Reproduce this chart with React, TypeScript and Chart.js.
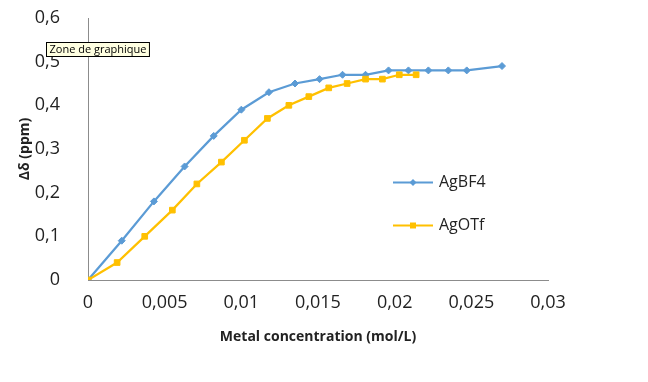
import { useEffect, useRef } from 'react';
import { Chart, registerables } from 'chart.js';
Chart.register(...registerables);

const seriesNames = ['AgBF4', 'AgOTf'];
const concBF4 = [0, 0.0022, 0.0043, 0.0063, 0.0082, 0.01, 0.0118, 0.0135, 0.0151, 0.0166, 0.0181, 0.0196, 0.0209, 0.0222, 0.0235, 0.0247, 0.027];
const shiftBF4 = [0, 0.09, 0.18, 0.26, 0.33, 0.39, 0.43, 0.45, 0.46, 0.47, 0.47, 0.48, 0.48, 0.48, 0.48, 0.48, 0.49];
const concOTf = [0, 0.0019, 0.0037, 0.0055, 0.0071, 0.0087, 0.0102, 0.0117, 0.0131, 0.0144, 0.0157, 0.0169, 0.0181, 0.0192, 0.0203, 0.0214];
const shiftOTf = [0, 0.04, 0.1, 0.16, 0.22, 0.27, 0.32, 0.37, 0.4, 0.42, 0.44, 0.45, 0.46, 0.46, 0.47, 0.47];
const xTickLabels = ['0', '0,005', '0,01', '0,015', '0,02', '0,025', '0,03'];
const yTickLabels = ['0', '0,1', '0,2', '0,3', '0,4', '0,5', '0,6'];
const xTitle = 'Metal concentration (mol/L)';
const yTitle = 'Δδ (ppm)';
const hoverLabel = 'Zone de graphique';

const BLUE = '#5B9BD5';
const YELLOW = '#FFC000';

const overlayPlugin = {
  id: 'overlay',
  afterDraw(chart: any) {
    const ctx = chart.ctx as CanvasRenderingContext2D;
    ctx.save();
    const entries = [
      { name: seriesNames[0], color: BLUE, style: 'diamond', y: 182.5 },
      { name: seriesNames[1], color: YELLOW, style: 'square', y: 225.5 },
    ];
    for (const e of entries) {
      ctx.strokeStyle = e.color;
      ctx.lineWidth = 2;
      ctx.beginPath();
      ctx.moveTo(393, e.y);
      ctx.lineTo(433, e.y);
      ctx.stroke();
      ctx.fillStyle = e.color;
      ctx.beginPath();
      if (e.style === 'diamond') {
        ctx.moveTo(413, e.y - 3.5);
        ctx.lineTo(416.5, e.y);
        ctx.lineTo(413, e.y + 3.5);
        ctx.lineTo(409.5, e.y);
        ctx.closePath();
      } else {
        ctx.rect(410, e.y - 3, 6, 6);
      }
      ctx.fill();
      ctx.fillStyle = '#222';
      ctx.font = '16px "Open Sans"';
      ctx.textBaseline = 'middle';
      ctx.textAlign = 'left';
      ctx.fillText(e.name, 439, e.y);
    }
    ctx.font = '11px "Open Sans"';
    const w = ctx.measureText(hoverLabel).width;
    ctx.fillStyle = '#FFFFE1';
    ctx.fillRect(46.5, 42.5, w + 6, 14);
    ctx.strokeStyle = '#000';
    ctx.lineWidth = 1;
    ctx.strokeRect(46.5, 42.5, w + 6, 14);
    ctx.fillStyle = '#000';
    ctx.textBaseline = 'middle';
    ctx.fillText(hoverLabel, 49.5, 49.5);
    ctx.restore();
  },
};

export default function App() {
  const ref = useRef<HTMLCanvasElement | null>(null);
  useEffect(() => {
    document.body.style.margin = '0';
    if (!ref.current) return;
    const chart = new Chart(ref.current, {
      type: 'line',
      data: {
        datasets: [
          {
            label: seriesNames[0],
            data: concBF4.map((x, i) => ({ x, y: shiftBF4[i] })),
            borderColor: BLUE,
            backgroundColor: BLUE,
            pointBackgroundColor: BLUE,
            pointBorderColor: BLUE,
            pointStyle: 'rectRot',
            pointRadius: 3.5,
            pointBorderWidth: 1,
            borderWidth: 2.25,
            tension: 0,
            order: 1,
          },
          {
            label: seriesNames[1],
            data: concOTf.map((x, i) => ({ x, y: shiftOTf[i] })),
            borderColor: YELLOW,
            backgroundColor: YELLOW,
            pointBackgroundColor: YELLOW,
            pointBorderColor: YELLOW,
            pointStyle: 'rect',
            pointRadius: 4,
            pointBorderWidth: 1,
            borderWidth: 2.25,
            tension: 0,
            order: 0,
          },
        ],
      },
      options: {
        responsive: false,
        animation: false,
        events: [],
        layout: { padding: { left: 0, right: 100, top: 18, bottom: 0 } },
        plugins: { legend: { display: false }, tooltip: { enabled: false } },
        scales: {
          x: {
            type: 'linear',
            min: 0,
            max: 0.03,
            grid: { display: false },
            border: { display: true, color: '#8C8C8C', width: 1 },
            ticks: {
              stepSize: 0.005,
              padding: 4,
              color: '#222',
              font: { family: 'Open Sans', size: 18 },
              maxRotation: 0,
              autoSkip: false,
              callback: (_v: any, i: number) => xTickLabels[i],
            },
            title: {
              display: true,
              text: xTitle,
              color: '#222',
              font: { family: 'Open Sans', size: 14, weight: 'bold' },
              padding: { top: 0, bottom: 37 },
            },
            afterFit: (s: any) => { s.height = 102; s.paddingLeft = 0; s.paddingRight = 0; },
          },
          y: {
            type: 'linear',
            min: 0,
            max: 0.6,
            grid: { display: false },
            border: { display: true, color: '#8C8C8C', width: 1 },
            ticks: {
              stepSize: 0.1,
              padding: 20,
              color: '#222',
              font: { family: 'Open Sans', size: 18 },
              callback: (_v: any, i: number) => yTickLabels[i],
            },
            title: {
              display: true,
              text: yTitle,
              color: '#222',
              font: { family: 'Open Sans', size: 14, weight: 'bold' },
              padding: 17,
            },
            afterFit: (s: any) => { s.width = 88; s.paddingTop = 0; s.paddingBottom = 0; },
          },
        },
      },
      plugins: [overlayPlugin],
    } as any);
    return () => chart.destroy();
  }, []);
  return <canvas ref={ref} width={648} height={382} style={{ display: 'block' }} />;
}
